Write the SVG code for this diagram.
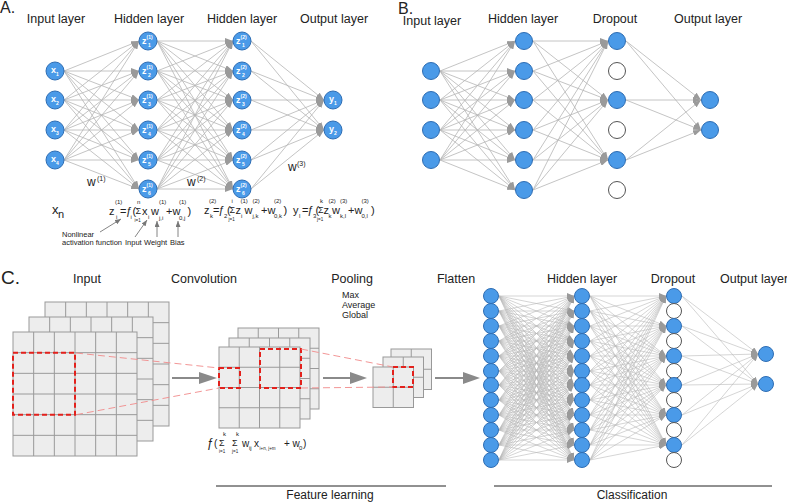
<svg xmlns="http://www.w3.org/2000/svg" xmlns:xlink="http://www.w3.org/1999/xlink" width="787" height="503" viewBox="0 0 787 503">
<style>
text{font-family:"Liberation Sans",Arial,sans-serif;fill:#222}
.h{font-size:12.5px;text-anchor:middle}
.p{font-size:16px}
.n{fill:#4a9ae8;stroke:#2e6db3;stroke-width:1}
.e{fill:#fff;stroke:#555;stroke-width:1}
.cn path{stroke:#b5b5b5;stroke-width:0.8;fill:none;marker-end:url(#ar)}
.cs path{stroke:#b8b8b8;stroke-width:0.6;fill:none;marker-end:url(#ars)}
.nl{font-weight:bold;fill:#fff;font-size:9px}
.ns{font-weight:bold;fill:#fff;font-size:5px}
.f{font-size:11px}
.fs{font-size:6px}
.fz{font-size:4.5px}
.sg{font-size:9px}
.an{font-size:7.5px}
.ann path{stroke:#777;stroke-width:0.9;fill:none;marker-end:url(#ara)}
.rd{fill:none;stroke:#e3211c;stroke-width:2;stroke-dasharray:5 3}
.rl{stroke:#f08a8a;stroke-width:0.9;stroke-dasharray:7 4;fill:none}
.ga{stroke:#8a8a8a;stroke-width:2}
</style>
<defs>
<marker id="ar" viewBox="0 0 8 6" refX="8" refY="3" markerWidth="8" markerHeight="6" markerUnits="userSpaceOnUse" orient="auto"><path d="M0,0L8,3L0,6z" fill="#9a9a9a"/></marker>
<marker id="ars" viewBox="0 0 7 6" refX="7" refY="3" markerWidth="7" markerHeight="6" markerUnits="userSpaceOnUse" orient="auto"><path d="M0,0L7,3L0,6z" fill="#9a9a9a"/></marker>
<marker id="ara" viewBox="0 0 6 5" refX="6" refY="2.5" markerWidth="6" markerHeight="5" markerUnits="userSpaceOnUse" orient="auto"><path d="M0,0L6,2.5L0,5z" fill="#777"/></marker>
<g id="g6"><rect width="124" height="124" fill="#ededed" stroke="#999"/><path d="M20.67 0V124M41.33 0V124M62 0V124M82.67 0V124M103.33 0V124M0 20.67H124M0 41.33H124M0 62H124M0 82.67H124M0 103.33H124" stroke="#9a9a9a"/></g>
<g id="g4"><rect width="81" height="81" fill="#ededed" stroke="#999"/><path d="M20.25 0V81M40.5 0V81M60.75 0V81M0 20.25H81M0 40.5H81M0 60.75H81" stroke="#9a9a9a"/></g>
<g id="g2"><rect width="40.5" height="40.5" fill="#ededed" stroke="#999"/><path d="M20.25 0V40.5M0 20.25H40.5" stroke="#9a9a9a"/></g>
</defs>
<rect width="787" height="503" fill="#fff"/>

<!-- Panel labels and titles -->
<text class="p" x="0" y="13">A.</text>
<text class="p" x="398" y="13.5">B.</text>
<text class="p" x="1" y="284" style="font-size:19px">C.</text>
<text class="h" x="56" y="23">Input layer</text>
<text class="h" x="149" y="23">Hidden layer</text>
<text class="h" x="242" y="23">Hidden layer</text>
<text class="h" x="334" y="23">Output layer</text>
<text class="h" x="432" y="24.5">Input layer</text>
<text class="h" x="523" y="23">Hidden layer</text>
<text class="h" x="615" y="23">Dropout</text>
<text class="h" x="708" y="23">Output layer</text>
<text class="h" x="87" y="283">Input</text>
<text class="h" x="204" y="283">Convolution</text>
<text class="h" x="352" y="283">Pooling</text>
<text class="h" x="456" y="283">Flatten</text>
<text class="h" x="582" y="283">Hidden layer</text>
<text class="h" x="673" y="283">Dropout</text>
<text class="h" x="754" y="283">Output layer</text>
<text style="font-size:9px"><tspan x="342" y="298">Max</tspan><tspan x="342" y="308">Average</tspan><tspan x="342" y="318">Global</tspan></text>

<!-- Connectors -->
<g id="connectors">
<g class="cn" id="conn-a">
<path d="M64 71L139 41"/><path d="M64 71L139 71"/><path d="M64 71L139 100"/><path d="M64 71L139 130"/><path d="M64 71L139 160"/><path d="M64 71L139 189"/>
<path d="M64 100L139 41"/><path d="M64 100L139 71"/><path d="M64 100L139 100"/><path d="M64 100L139 130"/><path d="M64 100L139 160"/><path d="M64 100L139 189"/>
<path d="M64 130L139 41"/><path d="M64 130L139 71"/><path d="M64 130L139 100"/><path d="M64 130L139 130"/><path d="M64 130L139 160"/><path d="M64 130L139 189"/>
<path d="M64 160L139 41"/><path d="M64 160L139 71"/><path d="M64 160L139 100"/><path d="M64 160L139 130"/><path d="M64 160L139 160"/><path d="M64 160L139 189"/>
<path d="M157 41L233 41"/><path d="M157 41L233 71"/><path d="M157 41L233 100"/><path d="M157 41L233 130"/><path d="M157 41L233 160"/><path d="M157 41L233 189"/>
<path d="M157 71L233 41"/><path d="M157 71L233 71"/><path d="M157 71L233 100"/><path d="M157 71L233 130"/><path d="M157 71L233 160"/><path d="M157 71L233 189"/>
<path d="M157 100L233 41"/><path d="M157 100L233 71"/><path d="M157 100L233 100"/><path d="M157 100L233 130"/><path d="M157 100L233 160"/><path d="M157 100L233 189"/>
<path d="M157 130L233 41"/><path d="M157 130L233 71"/><path d="M157 130L233 100"/><path d="M157 130L233 130"/><path d="M157 130L233 160"/><path d="M157 130L233 189"/>
<path d="M157 160L233 41"/><path d="M157 160L233 71"/><path d="M157 160L233 100"/><path d="M157 160L233 130"/><path d="M157 160L233 160"/><path d="M157 160L233 189"/>
<path d="M157 189L233 41"/><path d="M157 189L233 71"/><path d="M157 189L233 100"/><path d="M157 189L233 130"/><path d="M157 189L233 160"/><path d="M157 189L233 189"/>
<path d="M251 41L324 100"/><path d="M251 41L324 130"/><path d="M251 71L324 100"/><path d="M251 71L324 130"/><path d="M251 100L324 100"/><path d="M251 100L324 130"/>
<path d="M251 130L324 100"/><path d="M251 130L324 130"/><path d="M251 160L324 100"/><path d="M251 160L324 130"/><path d="M251 189L324 100"/><path d="M251 189L324 130"/>
</g>
<g class="cn" id="conn-b">
<path d="M440 71L515 41"/><path d="M440 71L515 71"/><path d="M440 71L515 100"/><path d="M440 71L515 130"/><path d="M440 71L515 160"/><path d="M440 71L515 190"/>
<path d="M440 100L515 41"/><path d="M440 100L515 71"/><path d="M440 100L515 100"/><path d="M440 100L515 130"/><path d="M440 100L515 160"/><path d="M440 100L515 190"/>
<path d="M440 130L515 41"/><path d="M440 130L515 71"/><path d="M440 130L515 100"/><path d="M440 130L515 130"/><path d="M440 130L515 160"/><path d="M440 130L515 190"/>
<path d="M440 160L515 41"/><path d="M440 160L515 71"/><path d="M440 160L515 100"/><path d="M440 160L515 130"/><path d="M440 160L515 160"/><path d="M440 160L515 190"/>
<path d="M533 41L608 41"/><path d="M533 41L608 100"/><path d="M533 41L608 160"/>
<path d="M533 71L608 41"/><path d="M533 71L608 100"/><path d="M533 71L608 160"/>
<path d="M533 100L608 41"/><path d="M533 100L608 100"/><path d="M533 100L608 160"/>
<path d="M533 130L608 41"/><path d="M533 130L608 100"/><path d="M533 130L608 160"/>
<path d="M533 160L608 41"/><path d="M533 160L608 100"/><path d="M533 160L608 160"/>
<path d="M533 190L608 41"/><path d="M533 190L608 100"/><path d="M533 190L608 160"/>
<path d="M626 41L701 100"/><path d="M626 41L701 130"/><path d="M626 100L701 100"/><path d="M626 100L701 130"/><path d="M626 160L701 100"/><path d="M626 160L701 130"/>
</g>
<g class="cs" id="conn-c">
<path d="M499 296L574 296"/><path d="M499 296L574 311"/><path d="M499 296L574 326"/><path d="M499 296L574 341"/><path d="M499 296L574 356"/><path d="M499 296L574 371"/><path d="M499 296L574 385"/><path d="M499 296L574 400"/><path d="M499 296L574 415"/><path d="M499 296L574 430"/><path d="M499 296L574 445"/><path d="M499 296L574 460"/>
<path d="M499 311L574 296"/><path d="M499 311L574 311"/><path d="M499 311L574 326"/><path d="M499 311L574 341"/><path d="M499 311L574 356"/><path d="M499 311L574 371"/><path d="M499 311L574 385"/><path d="M499 311L574 400"/><path d="M499 311L574 415"/><path d="M499 311L574 430"/><path d="M499 311L574 445"/><path d="M499 311L574 460"/>
<path d="M499 326L574 296"/><path d="M499 326L574 311"/><path d="M499 326L574 326"/><path d="M499 326L574 341"/><path d="M499 326L574 356"/><path d="M499 326L574 371"/><path d="M499 326L574 385"/><path d="M499 326L574 400"/><path d="M499 326L574 415"/><path d="M499 326L574 430"/><path d="M499 326L574 445"/><path d="M499 326L574 460"/>
<path d="M499 341L574 296"/><path d="M499 341L574 311"/><path d="M499 341L574 326"/><path d="M499 341L574 341"/><path d="M499 341L574 356"/><path d="M499 341L574 371"/><path d="M499 341L574 385"/><path d="M499 341L574 400"/><path d="M499 341L574 415"/><path d="M499 341L574 430"/><path d="M499 341L574 445"/><path d="M499 341L574 460"/>
<path d="M499 356L574 296"/><path d="M499 356L574 311"/><path d="M499 356L574 326"/><path d="M499 356L574 341"/><path d="M499 356L574 356"/><path d="M499 356L574 371"/><path d="M499 356L574 385"/><path d="M499 356L574 400"/><path d="M499 356L574 415"/><path d="M499 356L574 430"/><path d="M499 356L574 445"/><path d="M499 356L574 460"/>
<path d="M499 371L574 296"/><path d="M499 371L574 311"/><path d="M499 371L574 326"/><path d="M499 371L574 341"/><path d="M499 371L574 356"/><path d="M499 371L574 371"/><path d="M499 371L574 385"/><path d="M499 371L574 400"/><path d="M499 371L574 415"/><path d="M499 371L574 430"/><path d="M499 371L574 445"/><path d="M499 371L574 460"/>
<path d="M499 385L574 296"/><path d="M499 385L574 311"/><path d="M499 385L574 326"/><path d="M499 385L574 341"/><path d="M499 385L574 356"/><path d="M499 385L574 371"/><path d="M499 385L574 385"/><path d="M499 385L574 400"/><path d="M499 385L574 415"/><path d="M499 385L574 430"/><path d="M499 385L574 445"/><path d="M499 385L574 460"/>
<path d="M499 400L574 296"/><path d="M499 400L574 311"/><path d="M499 400L574 326"/><path d="M499 400L574 341"/><path d="M499 400L574 356"/><path d="M499 400L574 371"/><path d="M499 400L574 385"/><path d="M499 400L574 400"/><path d="M499 400L574 415"/><path d="M499 400L574 430"/><path d="M499 400L574 445"/><path d="M499 400L574 460"/>
<path d="M499 415L574 296"/><path d="M499 415L574 311"/><path d="M499 415L574 326"/><path d="M499 415L574 341"/><path d="M499 415L574 356"/><path d="M499 415L574 371"/><path d="M499 415L574 385"/><path d="M499 415L574 400"/><path d="M499 415L574 415"/><path d="M499 415L574 430"/><path d="M499 415L574 445"/><path d="M499 415L574 460"/>
<path d="M499 430L574 296"/><path d="M499 430L574 311"/><path d="M499 430L574 326"/><path d="M499 430L574 341"/><path d="M499 430L574 356"/><path d="M499 430L574 371"/><path d="M499 430L574 385"/><path d="M499 430L574 400"/><path d="M499 430L574 415"/><path d="M499 430L574 430"/><path d="M499 430L574 445"/><path d="M499 430L574 460"/>
<path d="M499 445L574 296"/><path d="M499 445L574 311"/><path d="M499 445L574 326"/><path d="M499 445L574 341"/><path d="M499 445L574 356"/><path d="M499 445L574 371"/><path d="M499 445L574 385"/><path d="M499 445L574 400"/><path d="M499 445L574 415"/><path d="M499 445L574 430"/><path d="M499 445L574 445"/><path d="M499 445L574 460"/>
<path d="M499 460L574 296"/><path d="M499 460L574 311"/><path d="M499 460L574 326"/><path d="M499 460L574 341"/><path d="M499 460L574 356"/><path d="M499 460L574 371"/><path d="M499 460L574 385"/><path d="M499 460L574 400"/><path d="M499 460L574 415"/><path d="M499 460L574 430"/><path d="M499 460L574 445"/><path d="M499 460L574 460"/>
<path d="M590 296L666 296"/><path d="M590 296L666 326"/><path d="M590 296L666 356"/><path d="M590 296L666 385"/><path d="M590 296L666 415"/><path d="M590 296L666 445"/>
<path d="M590 311L666 296"/><path d="M590 311L666 326"/><path d="M590 311L666 356"/><path d="M590 311L666 385"/><path d="M590 311L666 415"/><path d="M590 311L666 445"/>
<path d="M590 326L666 296"/><path d="M590 326L666 326"/><path d="M590 326L666 356"/><path d="M590 326L666 385"/><path d="M590 326L666 415"/><path d="M590 326L666 445"/>
<path d="M590 341L666 296"/><path d="M590 341L666 326"/><path d="M590 341L666 356"/><path d="M590 341L666 385"/><path d="M590 341L666 415"/><path d="M590 341L666 445"/>
<path d="M590 356L666 296"/><path d="M590 356L666 326"/><path d="M590 356L666 356"/><path d="M590 356L666 385"/><path d="M590 356L666 415"/><path d="M590 356L666 445"/>
<path d="M590 371L666 296"/><path d="M590 371L666 326"/><path d="M590 371L666 356"/><path d="M590 371L666 385"/><path d="M590 371L666 415"/><path d="M590 371L666 445"/>
<path d="M590 385L666 296"/><path d="M590 385L666 326"/><path d="M590 385L666 356"/><path d="M590 385L666 385"/><path d="M590 385L666 415"/><path d="M590 385L666 445"/>
<path d="M590 400L666 296"/><path d="M590 400L666 326"/><path d="M590 400L666 356"/><path d="M590 400L666 385"/><path d="M590 400L666 415"/><path d="M590 400L666 445"/>
<path d="M590 415L666 296"/><path d="M590 415L666 326"/><path d="M590 415L666 356"/><path d="M590 415L666 385"/><path d="M590 415L666 415"/><path d="M590 415L666 445"/>
<path d="M590 430L666 296"/><path d="M590 430L666 326"/><path d="M590 430L666 356"/><path d="M590 430L666 385"/><path d="M590 430L666 415"/><path d="M590 430L666 445"/>
<path d="M590 445L666 296"/><path d="M590 445L666 326"/><path d="M590 445L666 356"/><path d="M590 445L666 385"/><path d="M590 445L666 415"/><path d="M590 445L666 445"/>
<path d="M590 460L666 296"/><path d="M590 460L666 326"/><path d="M590 460L666 356"/><path d="M590 460L666 385"/><path d="M590 460L666 415"/><path d="M590 460L666 445"/>
<path d="M682 296L758 354"/><path d="M682 296L758 384"/><path d="M682 326L758 354"/><path d="M682 326L758 384"/><path d="M682 356L758 354"/><path d="M682 356L758 384"/>
<path d="M682 385L758 354"/><path d="M682 385L758 384"/><path d="M682 415L758 354"/><path d="M682 415L758 384"/><path d="M682 445L758 354"/><path d="M682 445L758 384"/>
</g>
</g>

<!-- Panel A nodes -->
<g id="a-x1"><circle class="n" cx="55" cy="71" r="9"/><text class="nl" x="51" y="73">x<tspan class="ns" dy="3">1</tspan></text></g>
<g id="a-x2"><circle class="n" cx="55" cy="100" r="9"/><text class="nl" x="51" y="102">x<tspan class="ns" dy="3">2</tspan></text></g>
<g id="a-x3"><circle class="n" cx="55" cy="130" r="9"/><text class="nl" x="51" y="132">x<tspan class="ns" dy="3">3</tspan></text></g>
<g id="a-x4"><circle class="n" cx="55" cy="160" r="9"/><text class="nl" x="51" y="162">x<tspan class="ns" dy="3">4</tspan></text></g>
<g id="a-z11"><circle class="n" cx="148" cy="41" r="9"/><text class="nl" x="142" y="44">z<tspan class="ns" dy="-5">(1)</tspan><tspan class="ns" x="148" y="47">1</tspan></text></g>
<g id="a-z12"><circle class="n" cx="148" cy="71" r="9"/><text class="nl" x="142" y="74">z<tspan class="ns" dy="-5">(1)</tspan><tspan class="ns" x="148" y="77">2</tspan></text></g>
<g id="a-z13"><circle class="n" cx="148" cy="100" r="9"/><text class="nl" x="142" y="103">z<tspan class="ns" dy="-5">(1)</tspan><tspan class="ns" x="148" y="106">3</tspan></text></g>
<g id="a-z14"><circle class="n" cx="148" cy="130" r="9"/><text class="nl" x="142" y="133">z<tspan class="ns" dy="-5">(1)</tspan><tspan class="ns" x="148" y="136">4</tspan></text></g>
<g id="a-z15"><circle class="n" cx="148" cy="160" r="9"/><text class="nl" x="142" y="163">z<tspan class="ns" dy="-5">(1)</tspan><tspan class="ns" x="148" y="166">5</tspan></text></g>
<g id="a-z16"><circle class="n" cx="148" cy="189" r="9"/><text class="nl" x="142" y="192">z<tspan class="ns" dy="-5">(1)</tspan><tspan class="ns" x="148" y="195">6</tspan></text></g>
<g id="a-z21"><circle class="n" cx="242" cy="41" r="9"/><text class="nl" x="236" y="44">z<tspan class="ns" dy="-5">(2)</tspan><tspan class="ns" x="242" y="47">1</tspan></text></g>
<g id="a-z22"><circle class="n" cx="242" cy="71" r="9"/><text class="nl" x="236" y="74">z<tspan class="ns" dy="-5">(2)</tspan><tspan class="ns" x="242" y="77">2</tspan></text></g>
<g id="a-z23"><circle class="n" cx="242" cy="100" r="9"/><text class="nl" x="236" y="103">z<tspan class="ns" dy="-5">(2)</tspan><tspan class="ns" x="242" y="106">3</tspan></text></g>
<g id="a-z24"><circle class="n" cx="242" cy="130" r="9"/><text class="nl" x="236" y="133">z<tspan class="ns" dy="-5">(2)</tspan><tspan class="ns" x="242" y="136">4</tspan></text></g>
<g id="a-z25"><circle class="n" cx="242" cy="160" r="9"/><text class="nl" x="236" y="163">z<tspan class="ns" dy="-5">(2)</tspan><tspan class="ns" x="242" y="166">5</tspan></text></g>
<g id="a-z26"><circle class="n" cx="242" cy="189" r="9"/><text class="nl" x="236" y="192">z<tspan class="ns" dy="-5">(2)</tspan><tspan class="ns" x="242" y="195">6</tspan></text></g>
<g id="a-y1"><circle class="n" cx="333" cy="100" r="9"/><text class="nl" x="329" y="102">y<tspan class="ns" dy="3">1</tspan></text></g>
<g id="a-y2"><circle class="n" cx="333" cy="130" r="9"/><text class="nl" x="329" y="132">y<tspan class="ns" dy="3">2</tspan></text></g>

<!-- Panel A weights and formulas -->
<g id="a-weights">
<text style="font-size:12px"><tspan x="87" y="186">w</tspan><tspan x="97" y="181" style="font-size:7px">(1)</tspan></text>
<text style="font-size:12px"><tspan x="187" y="186">w</tspan><tspan x="197" y="181" style="font-size:7px">(2)</tspan></text>
<text style="font-size:12px"><tspan x="288" y="171">w</tspan><tspan x="297" y="166" style="font-size:7px">(3)</tspan></text>
</g>
<g id="a-formulas">
<text style="font-size:13px"><tspan x="52" y="214">x</tspan><tspan x="58" y="218" style="font-size:11px">n</tspan></text>
<text class="f"><tspan x="109" y="215">z</tspan><tspan class="fs" x="115" y="204">(1)</tspan><tspan class="fs" x="116" y="219">i</tspan><tspan x="120" y="215">=</tspan><tspan x="126" y="215">ƒ</tspan><tspan class="fs" x="130.5" y="219">i</tspan><tspan x="132.5" y="215">(</tspan><tspan class="sg" x="135.5" y="214">Σ</tspan><tspan class="fs" x="137" y="204">n</tspan><tspan class="fz" x="134.5" y="222">i=1</tspan><tspan x="142" y="215">x</tspan><tspan class="fs" x="148" y="219">i</tspan><tspan x="151" y="215">w</tspan><tspan class="fs" x="159" y="204">(1)</tspan><tspan class="fs" x="159" y="220">j,i</tspan><tspan x="166" y="215">+w</tspan><tspan class="fs" x="179" y="204">(1)</tspan><tspan class="fs" x="179" y="220">0,j</tspan><tspan x="187.5" y="215">)</tspan></text>
<text class="f"><tspan x="204" y="214">z</tspan><tspan class="fs" x="209" y="203">(2)</tspan><tspan class="fs" x="210" y="218">k</tspan><tspan x="213" y="214">=</tspan><tspan x="218.5" y="214">ƒ</tspan><tspan class="fs" x="224" y="218">2</tspan><tspan x="227" y="214">(</tspan><tspan class="sg" x="229.5" y="213">Σ</tspan><tspan class="fs" x="231.5" y="203">i</tspan><tspan class="fz" x="228.5" y="221">j=1</tspan><tspan x="235.5" y="214">z</tspan><tspan class="fs" x="240.5" y="203">(1)</tspan><tspan class="fs" x="241" y="218">i</tspan><tspan x="244.5" y="214">w</tspan><tspan class="fs" x="252.5" y="203">(2)</tspan><tspan class="fs" x="252.5" y="218">j,k</tspan><tspan x="261" y="214">+w</tspan><tspan class="fs" x="274" y="203">(2)</tspan><tspan class="fs" x="274" y="218">0,k</tspan><tspan x="283.5" y="214">)</tspan></text>
<text class="f"><tspan x="293" y="214">y</tspan><tspan class="fs" x="299" y="218">l</tspan><tspan x="302" y="214">=</tspan><tspan x="307.5" y="214">ƒ</tspan><tspan class="fs" x="313" y="218">3</tspan><tspan x="315.5" y="214">(</tspan><tspan class="sg" x="318" y="213">Σ</tspan><tspan class="fs" x="320" y="203">k</tspan><tspan class="fz" x="317" y="221">j=1</tspan><tspan x="323.5" y="214">z</tspan><tspan class="fs" x="328.5" y="203">(2)</tspan><tspan class="fs" x="328.5" y="218">k</tspan><tspan x="332" y="214">w</tspan><tspan class="fs" x="340" y="203">(3)</tspan><tspan class="fs" x="340" y="218">k,l</tspan><tspan x="348" y="214">+w</tspan><tspan class="fs" x="361.5" y="203">(3)</tspan><tspan class="fs" x="361.5" y="218">0,l</tspan><tspan x="371" y="214">)</tspan></text>
</g>
<g id="a-annotations">
<g class="ann"><path d="M100 232L121 219"/><path d="M135 237L147 220"/><path d="M157 237V221"/><path d="M178 237V221"/></g>
<text class="an" x="62" y="237">Nonlinear</text>
<text class="an" x="62" y="245">activation function</text>
<text class="an" x="125" y="245">Input</text>
<text class="an" x="144" y="245">Weight</text>
<text class="an" x="170" y="245">Bias</text>
</g>

<!-- Panel B nodes -->
<g id="b-in1"><circle class="n" cx="431" cy="71" r="8.5"/></g>
<g id="b-in2"><circle class="n" cx="431" cy="100" r="8.5"/></g>
<g id="b-in3"><circle class="n" cx="431" cy="130" r="8.5"/></g>
<g id="b-in4"><circle class="n" cx="431" cy="160" r="8.5"/></g>
<g id="b-h1"><circle class="n" cx="524" cy="41" r="8.5"/></g>
<g id="b-h2"><circle class="n" cx="524" cy="71" r="8.5"/></g>
<g id="b-h3"><circle class="n" cx="524" cy="100" r="8.5"/></g>
<g id="b-h4"><circle class="n" cx="524" cy="130" r="8.5"/></g>
<g id="b-h5"><circle class="n" cx="524" cy="160" r="8.5"/></g>
<g id="b-h6"><circle class="n" cx="524" cy="190" r="8.5"/></g>
<g id="b-d1"><circle class="n" cx="617" cy="41" r="8.5"/></g>
<g id="b-d2"><circle class="e" cx="617" cy="71" r="8.5"/></g>
<g id="b-d3"><circle class="n" cx="617" cy="100" r="8.5"/></g>
<g id="b-d4"><circle class="e" cx="617" cy="130" r="8.5"/></g>
<g id="b-d5"><circle class="n" cx="617" cy="160" r="8.5"/></g>
<g id="b-d6"><circle class="e" cx="617" cy="190" r="8.5"/></g>
<g id="b-o1"><circle class="n" cx="710" cy="100" r="8.5"/></g>
<g id="b-o2"><circle class="n" cx="710" cy="130" r="8.5"/></g>

<!-- Panel C feature maps -->
<g id="c-input">
<use href="#g6" x="45" y="302"/><use href="#g6" x="29" y="317"/><use href="#g6" x="13" y="332"/>
<rect class="rd" x="13" y="352.7" width="62" height="62"/>
</g>
<g id="c-conv">
<use href="#g4" x="238" y="328"/><use href="#g4" x="229" y="338"/><use href="#g4" x="219" y="347"/>
<rect class="rd" x="219" y="368" width="21" height="20"/>
<rect class="rd" x="260" y="349" width="41" height="39"/>
</g>
<g id="c-pool">
<use href="#g2" x="391" y="349"/><use href="#g2" x="383" y="357"/><use href="#g2" x="373" y="367"/>
<rect class="rd" x="393" y="367" width="20" height="20"/>
</g>
<g id="c-links">
<path class="rl" d="M76 353L219 368M76 414.7L219 388M301 349L393 367M301 388L393 387"/>
<path class="ga" d="M172 378H200M323 378H351M435 378H464"/>
<path fill="#8a8a8a" d="M199 372L217 378L199 384zM350 372L367 378L350 384zM463 372L480 378L463 384z"/>
</g>
<g id="c-formula">
<text style="font-size:10px"><tspan x="207" y="447" style="font-size:12px">ƒ</tspan><tspan x="214" y="447">(</tspan><tspan class="sg" x="219" y="446">Σ</tspan><tspan class="fs" x="223" y="436">k</tspan><tspan class="fz" x="219" y="453">i=1</tspan><tspan class="sg" x="232" y="446">Σ</tspan><tspan class="fs" x="236" y="436">k</tspan><tspan class="fz" x="232" y="453">j=1</tspan><tspan x="242" y="447">w</tspan><tspan class="fs" x="249" y="450">ij</tspan><tspan x="254" y="447">x</tspan><tspan class="fz" x="259.5" y="450">i+n, j+m</tspan><tspan x="284" y="447">+ w</tspan><tspan class="fs" x="299" y="450">0</tspan><tspan x="303" y="447">)</tspan></text>
</g>

<!-- Panel C nodes -->
<g id="c-f1"><circle class="n" cx="491" cy="296" r="7.5"/></g>
<g id="c-f2"><circle class="n" cx="491" cy="311" r="7.5"/></g>
<g id="c-f3"><circle class="n" cx="491" cy="326" r="7.5"/></g>
<g id="c-f4"><circle class="n" cx="491" cy="341" r="7.5"/></g>
<g id="c-f5"><circle class="n" cx="491" cy="356" r="7.5"/></g>
<g id="c-f6"><circle class="n" cx="491" cy="371" r="7.5"/></g>
<g id="c-f7"><circle class="n" cx="491" cy="385" r="7.5"/></g>
<g id="c-f8"><circle class="n" cx="491" cy="400" r="7.5"/></g>
<g id="c-f9"><circle class="n" cx="491" cy="415" r="7.5"/></g>
<g id="c-f10"><circle class="n" cx="491" cy="430" r="7.5"/></g>
<g id="c-f11"><circle class="n" cx="491" cy="445" r="7.5"/></g>
<g id="c-f12"><circle class="n" cx="491" cy="460" r="7.5"/></g>
<g id="c-h1"><circle class="n" cx="582" cy="296" r="7.5"/></g>
<g id="c-h2"><circle class="n" cx="582" cy="311" r="7.5"/></g>
<g id="c-h3"><circle class="n" cx="582" cy="326" r="7.5"/></g>
<g id="c-h4"><circle class="n" cx="582" cy="341" r="7.5"/></g>
<g id="c-h5"><circle class="n" cx="582" cy="356" r="7.5"/></g>
<g id="c-h6"><circle class="n" cx="582" cy="371" r="7.5"/></g>
<g id="c-h7"><circle class="n" cx="582" cy="385" r="7.5"/></g>
<g id="c-h8"><circle class="n" cx="582" cy="400" r="7.5"/></g>
<g id="c-h9"><circle class="n" cx="582" cy="415" r="7.5"/></g>
<g id="c-h10"><circle class="n" cx="582" cy="430" r="7.5"/></g>
<g id="c-h11"><circle class="n" cx="582" cy="445" r="7.5"/></g>
<g id="c-h12"><circle class="n" cx="582" cy="460" r="7.5"/></g>
<g id="c-d1"><circle class="n" cx="674" cy="296" r="7.5"/></g>
<g id="c-d2"><circle class="e" cx="674" cy="311" r="7.5"/></g>
<g id="c-d3"><circle class="n" cx="674" cy="326" r="7.5"/></g>
<g id="c-d4"><circle class="e" cx="674" cy="341" r="7.5"/></g>
<g id="c-d5"><circle class="n" cx="674" cy="356" r="7.5"/></g>
<g id="c-d6"><circle class="e" cx="674" cy="371" r="7.5"/></g>
<g id="c-d7"><circle class="n" cx="674" cy="385" r="7.5"/></g>
<g id="c-d8"><circle class="e" cx="674" cy="400" r="7.5"/></g>
<g id="c-d9"><circle class="n" cx="674" cy="415" r="7.5"/></g>
<g id="c-d10"><circle class="e" cx="674" cy="430" r="7.5"/></g>
<g id="c-d11"><circle class="n" cx="674" cy="445" r="7.5"/></g>
<g id="c-d12"><circle class="e" cx="674" cy="460" r="7.5"/></g>
<g id="c-o1"><circle class="n" cx="766" cy="354" r="7.5"/></g>
<g id="c-o2"><circle class="n" cx="766" cy="384" r="7.5"/></g>

<!-- Section brackets -->
<g id="sections">
<path d="M216 486H446M494 486H772" stroke="#222" stroke-width="1"/>
<text x="330" y="499" style="font-size:12px;text-anchor:middle">Feature learning</text>
<text x="632" y="499" style="font-size:12px;text-anchor:middle">Classification</text>
</g>
</svg>
